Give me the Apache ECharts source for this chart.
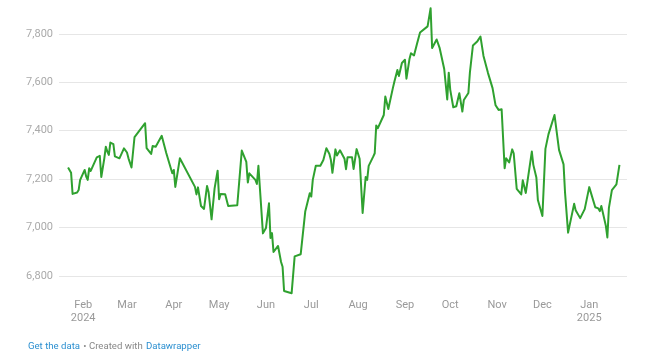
<!DOCTYPE html>
<html>
<head>
<meta charset="utf-8">
<script src="https://cdn.jsdelivr.net/npm/echarts@6/dist/echarts.min.js"></script>
<style>
html,body{margin:0;padding:0;background:#fff;}
#chart{width:650px;height:357px;}
</style>
</head>
<body>
<div id="chart"></div>
<script>
const dates = [
'2024-01-22','2024-01-23','2024-01-24','2024-01-25','2024-01-28','2024-01-29','2024-01-30','2024-01-31',
'2024-02-02','2024-02-03','2024-02-04','2024-02-05','2024-02-06','2024-02-10','2024-02-12','2024-02-13',
'2024-02-15','2024-02-16','2024-02-17','2024-02-18','2024-02-19','2024-02-21','2024-02-22','2024-02-25',
'2024-02-26','2024-02-28','2024-03-01','2024-03-02','2024-03-03','2024-03-04','2024-03-06','2024-03-13',
'2024-03-14','2024-03-17','2024-03-18','2024-03-20','2024-03-24','2024-03-25','2024-03-27','2024-03-31',
'2024-04-01','2024-04-02','2024-04-05','2024-04-15','2024-04-16','2024-04-17','2024-04-19','2024-04-21',
'2024-04-23','2024-04-24','2024-04-26','2024-04-28','2024-04-30','2024-05-01','2024-05-02','2024-05-05',
'2024-05-06','2024-05-07','2024-05-13','2024-05-16','2024-05-19','2024-05-20','2024-05-21','2024-05-25',
'2024-05-26','2024-05-27','2024-05-30','2024-06-01','2024-06-03','2024-06-04','2024-06-05','2024-06-06',
'2024-06-09','2024-06-11','2024-06-12','2024-06-13','2024-06-18','2024-06-20','2024-06-21','2024-06-24',
'2024-06-25','2024-06-27','2024-06-30','2024-07-01','2024-07-02','2024-07-04','2024-07-07','2024-07-09',
'2024-07-11','2024-07-13','2024-07-14','2024-07-15','2024-07-16','2024-07-17','2024-07-18','2024-07-20',
'2024-07-21','2024-07-23','2024-07-24','2024-07-25','2024-07-28','2024-07-29','2024-07-31','2024-08-02',
'2024-08-04','2024-08-06','2024-08-07','2024-08-08','2024-08-11','2024-08-12','2024-08-13','2024-08-14',
'2024-08-18','2024-08-19','2024-08-21','2024-08-24','2024-08-25','2024-08-26','2024-08-27','2024-08-28',
'2024-08-30','2024-09-01','2024-09-02','2024-09-04','2024-09-05','2024-09-07','2024-09-08','2024-09-09',
'2024-09-10','2024-09-11','2024-09-12','2024-09-16','2024-09-17','2024-09-18','2024-09-19','2024-09-22',
'2024-09-23','2024-09-24','2024-09-25','2024-09-27','2024-09-29','2024-09-30','2024-10-01','2024-10-03',
'2024-10-05','2024-10-07','2024-10-09','2024-10-10','2024-10-13','2024-10-14','2024-10-16','2024-10-19',
'2024-10-21','2024-10-23','2024-10-26','2024-10-29','2024-10-31','2024-11-02','2024-11-03','2024-11-04',
'2024-11-06','2024-11-07','2024-11-09','2024-11-11','2024-11-12','2024-11-14','2024-11-17','2024-11-18',
'2024-11-20','2024-11-24','2024-11-25','2024-11-27','2024-11-28','2024-12-01','2024-12-03','2024-12-05',
'2024-12-09','2024-12-12','2024-12-15','2024-12-16','2024-12-18','2024-12-19','2024-12-22','2024-12-23',
'2024-12-26','2024-12-29','2025-01-01','2025-01-02','2025-01-05','2025-01-07','2025-01-08','2025-01-09',
'2025-01-10','2025-01-12','2025-01-13','2025-01-14','2025-01-16','2025-01-19','2025-01-20','2025-01-21'
];
const values = [
7248,7255,7226,7139,7145,7155,7197,7203,
7238,7211,7197,7245,7234,7290,7296,7209,
7286,7334,7314,7300,7351,7345,7294,7286,
7283,7327,7310,7286,7267,7248,7374,7431,
7328,7304,7337,7334,7379,7372,7308,7224,
7238,7168,7286,7168,7137,7166,7089,7077,
7172,7147,7034,7162,7235,7117,7139,7138,
7131,7089,7092,7318,7271,7186,7224,7197,
7180,7255,6976,6998,7100,6957,6977,6899,
6924,6858,6838,6738,6729,6881,6887,6890,
6883,7066,7142,7128,7197,7255,7255,7279,
7328,7304,7279,7226,7224,7323,7298,7319,
7321,7284,7241,7290,7290,7242,7324,7284,
7060,7209,7197,7255,7293,7307,7422,7410,
7465,7541,7490,7576,7602,7608,7651,7626,
7680,7693,7615,7696,7720,7711,7706,7759,
7762,7806,7810,7831,7833,7906,7742,7777,
7778,7741,7737,7655,7529,7640,7569,7497,
7501,7555,7479,7527,7556,7640,7752,7770,
7789,7709,7638,7576,7505,7486,7492,7489,
7245,7286,7269,7323,7307,7160,7137,7195,
7143,7314,7259,7207,7114,7048,7325,7385,
7465,7321,7261,7143,6979,6984,7098,7072,
7039,7076,7167,7164,7084,7079,7068,7089,
7062,7007,6959,7080,7155,7178,7184,7259
];
const monthTicks = ['2024-02-01','2024-03-01','2024-04-01','2024-05-01','2024-06-01','2024-07-01',
  '2024-08-01','2024-09-01','2024-10-01','2024-11-01','2024-12-01','2025-01-01'];
const monthNames = ['Jan','Feb','Mar','Apr','May','Jun','Jul','Aug','Sep','Oct','Nov','Dec'];
const yTicks = [6800, 7000, 7200, 7400, 7600, 7800];
const xRange = ['2024-01-16', '2025-01-26'];

function ts(s) {
  const p = s.split('-').map(Number);
  return Date.UTC(p[0], p[1] - 1, p[2]);
}
const tickTimes = monthTicks.map(ts);
const firstTick = tickTimes[0];

const chart = echarts.init(document.getElementById('chart'), null, {renderer: 'canvas'});

chart.setOption({
  animation: false,
  backgroundColor: '#ffffff',
  grid: { left: 59, right: 23, top: 0, bottom: 32.6, containLabel: false },
  xAxis: {
    type: 'value',
    min: ts(xRange[0]),
    max: ts(xRange[1]),
    offset: -30,
    axisLine: { show: false },
    axisTick: { show: false, customValues: tickTimes },
    splitLine: { show: false },
    axisLabel: {
      customValues: tickTimes,
      margin: 4,
      color: '#999999',
      fontFamily: 'Roboto',
      fontSize: 11,
      lineHeight: 13,
      hideOverlap: false,
      showMinLabel: true,
      showMaxLabel: true,
      formatter: function (v) {
        const d = new Date(v);
        const m = d.getUTCMonth();
        let s = monthNames[m];
        if (m === 0 || v === firstTick) s += '\n' + d.getUTCFullYear();
        return s;
      }
    }
  },
  yAxis: {
    type: 'value',
    min: 6600,
    max: 7940,
    interval: 200,
    axisLine: { show: false },
    axisTick: { show: false },
    axisLabel: {
      showMinLabel: false,
      showMaxLabel: false,
      margin: 6,
      color: '#aaaaaa',
      fontFamily: 'Roboto',
      fontSize: 11,
      formatter: function (v) { return yTicks.indexOf(v) >= 0 ? v.toLocaleString('en-US') : ''; }
    },
    splitLine: {
      show: true,
      showMinLine: false,
      showMaxLine: false,
      lineStyle: { color: '#e6e6e6', width: 1 }
    }
  },
  series: [{
    type: 'line',
    data: dates.map((d, i) => [ts(d), values[i]]),
    showSymbol: false,
    symbol: 'none',
    clip: false,
    lineStyle: { color: '#2fa12f', width: 2, join: 'round' },
    itemStyle: { color: '#2fa12f' }
  }],
  graphic: [{
    type: 'text',
    left: 28,
    top: 341,
    style: {
      text: '{a|Get the data} {b|• Created with} {a|Datawrapper}',
      rich: {
        a: { fill: '#2b8fd0', fontFamily: 'Roboto', fontSize: 9.6 },
        b: { fill: '#888888', fontFamily: 'Roboto', fontSize: 9.6 }
      }
    }
  }]
});
</script>
</body>
</html>
